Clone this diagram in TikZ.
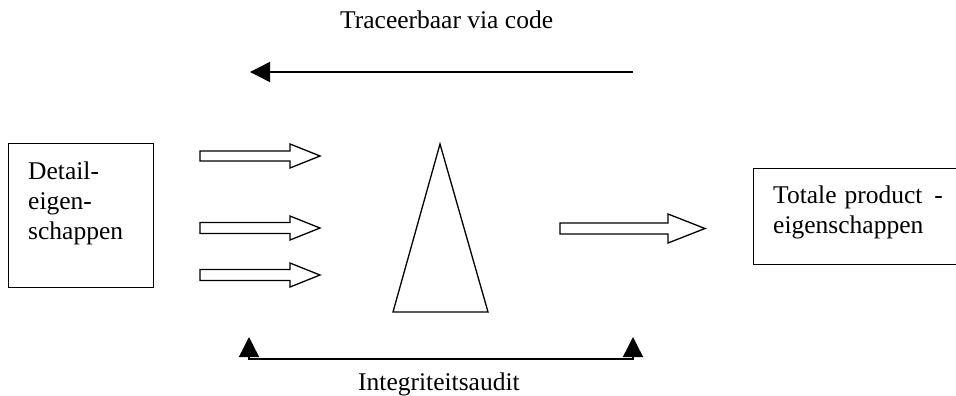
\documentclass[tikz,border=0pt]{standalone}
\usepackage{fontspec}
\setmainfont{Liberation Serif}
\usetikzlibrary{arrows.meta}

\tikzset{
  outline/.style={draw=black, line width=1.3pt, line join=miter},
  label text/.style={inner sep=0pt, font=\fontsize{25.5}{30}\selectfont, align=left},
  box/.style={outline, fill=white, inner sep=0pt, minimum width=#1},
  thin line/.style={draw=black, line width=1.4pt},
  end head/.style={-{Triangle[length=20pt, width=20pt]}},
  both heads/.style={{Triangle[length=20pt, width=20pt]}-{Triangle[length=20pt, width=20pt]}},
  % hollow block arrow: length / head length / half height / half shaft
  pics/blockarrow/.style args={#1/#2/#3/#4}{
    code={
      \draw[outline] (0,-#4) -- (#1-#2,-#4) -- (#1-#2,-#3) -- (#1,0)
        -- (#1-#2,#3) -- (#1-#2,#4) -- (0,#4) -- cycle;
    }
  }
}

\begin{document}
\begin{tikzpicture}[x=1pt, y=-1pt]
  \useasboundingbox (0,0) rectangle (956,396);
  \clip (0,0) rectangle (956,396);

  % input and output boxes (text is anchored on its last baseline)
  \node[box=145pt, minimum height=144pt, anchor=north west] (detail) at (8,143) {};
  \node[label text, anchor=base west] (detailtext) at (28,239) {Detail-\\eigen-\\schappen};

  \node[box=230pt, minimum height=96pt, anchor=north west] (totaal) at (753,168) {};
  \node[label text, anchor=base west] (totaaltext) at (773,233)
    {Totale\hspace{8pt}product\hspace{12pt}-\\eigenschappen};

  % flows into the cone
  \pic at (200,156) {blockarrow=120/30/12/5};
  \pic at (200,228) {blockarrow=120/30/12/5.5};
  \pic at (200,275) {blockarrow=120/30/12/5.5};
  % flow out of the cone
  \pic at (560,228.5) {blockarrow=145/37/14.5/5.5};

  % aggregation cone
  \draw[outline] (440,144) -- (488,312) -- (393,312) -- cycle;

  % traceability via code (right to left)
  \coordinate (traceA) at (633,72);
  \coordinate (traceB) at (250,72);
  \draw[thin line, end head] (traceA) -- (traceB);
  \node[label text, anchor=base west] (tracetext) at (340,29) {Traceerbaar via code};

  % integrity audit bracket
  \coordinate (auditA) at (249,337);
  \coordinate (auditB) at (633,337);
  \draw[thin line, both heads] (auditA) -- ++(0,22) -| (auditB);
  \node[label text, anchor=base west] (audittext) at (358,390) {Integriteitsaudit};
\end{tikzpicture}
\end{document}
